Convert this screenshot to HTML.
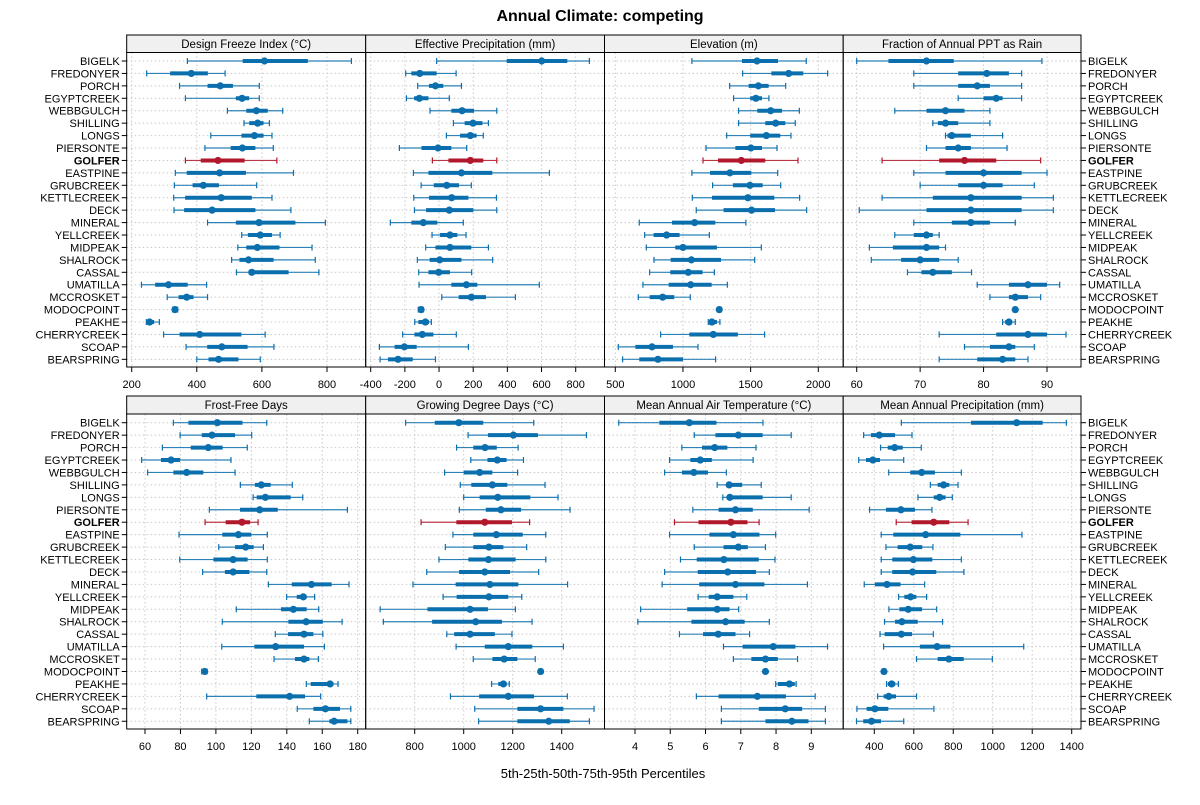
<!DOCTYPE html>
<html><head><meta charset="utf-8"><style>
body{margin:0;background:#fff;}
svg{font-family:"Liberation Sans",sans-serif;}
</style></head><body>
<svg id="chart" width="1200" height="800" xmlns="http://www.w3.org/2000/svg">
<text x="600" y="21" text-anchor="middle" font-size="16" font-weight="bold">Annual Climate: competing</text>
<text x="603" y="778" text-anchor="middle" font-size="13">5th-25th-50th-75th-95th Percentiles</text>
</svg>
<script>
const sites = ["BIGELK","FREDONYER","PORCH","EGYPTCREEK","WEBBGULCH","SHILLING","LONGS","PIERSONTE","GOLFER","EASTPINE","GRUBCREEK","KETTLECREEK","DECK","MINERAL","YELLCREEK","MIDPEAK","SHALROCK","CASSAL","UMATILLA","MCCROSKET","MODOCPOINT","PEAKHE","CHERRYCREEK","SCOAP","BEARSPRING"];
const highlightSite = "GOLFER";
const panelTitles = ["Design Freeze Index (°C)","Effective Precipitation (mm)","Elevation (m)","Fraction of Annual PPT as Rain","Frost-Free Days","Growing Degree Days (°C)","Mean Annual Air Temperature (°C)","Mean Annual Precipitation (mm)"];
const ticksFreeze = [200,400,600,800];
const ticksEffPpt = [-400,-200,0,200,400,600,800];
const ticksElev = [500,1000,1500,2000];
const ticksRain = [60,70,80,90];
const ticksFFD = [60,80,100,120,140,160,180];
const ticksGDD = [800,1000,1200,1400];
const ticksMAAT = [4,5,6,7,8,9];
const ticksMAP = [400,600,800,1000,1200,1400];
// each row: p5, p25, p50, p75, p95
const freezeIndex = [[371,541,608,741,875],[246,318,383,434,487],[347,433,472,511,592],[365,520,539,561,592],[494,552,583,618,664],[545,561,587,605,623],[443,537,577,605,631],[425,504,540,580,635],[365,412,465,547,646],[334,369,470,551,697],[331,387,420,468,584],[329,364,475,569,631],[330,361,447,580,689],[433,520,591,703,795],[538,557,595,631,656],[526,552,586,654,754],[507,531,559,636,764],[522,559,569,682,775],[230,272,313,372,430],[309,344,369,390,433],[326,330,333,336,341],[245,249,255,269,285],[298,347,409,537,610],[367,432,477,556,637],[400,436,467,528,595]];
const effPpt = [[-14,396,601,751,880],[-195,-162,-113,-14,100],[-125,-59,-21,25,131],[-191,-146,-115,-62,60],[-53,72,135,205,338],[84,150,199,254,289],[43,123,183,220,259],[-232,-103,-6,72,162],[-39,55,183,259,338],[-150,-62,131,312,646],[-105,-31,45,117,189],[-148,-59,74,172,336],[-144,-76,60,201,338],[-285,-162,-92,-10,142],[-41,6,64,107,158],[-78,-21,64,189,289],[-127,-55,4,131,314],[-119,-62,-2,64,191],[-117,72,160,224,587],[16,115,189,275,447],[-121,-113,-105,-98,-92],[-142,-121,-80,-59,-45],[-213,-144,-98,-33,101],[-349,-260,-203,-131,172],[-345,-299,-240,-154,-21]];
const elevation = [[1066,1436,1547,1702,1911],[1441,1653,1781,1889,2069],[1345,1485,1557,1633,1759],[1374,1497,1539,1584,1635],[1411,1549,1648,1732,1860],[1411,1608,1685,1756,1830],[1323,1497,1616,1719,1798],[1170,1387,1502,1584,1695],[1148,1259,1431,1608,1850],[1066,1200,1347,1505,1700],[1219,1369,1495,1589,1722],[1069,1214,1480,1675,1862],[1098,1300,1507,1680,1914],[677,919,1086,1239,1465],[717,783,879,975,1195],[729,943,1000,1251,1579],[786,909,1062,1281,1530],[754,906,1039,1145,1232],[704,894,1057,1212,1328],[670,754,850,936,1054],[1256,1262,1268,1276,1283],[1187,1195,1214,1251,1273],[835,1047,1224,1406,1603],[522,648,771,926,1111],[554,677,815,1000,1241]];
const rainFraction = [[60,65,71,75.3,89.2],[69,76,80.5,84,86],[69,76,79,81,86],[76,80,82,83,86],[66,71,74,77,81],[72,72.8,74,76,81],[74,74.3,75,78,83],[71,74,76,78,83.7],[64,73,77,82,89],[69,74,80,86,90],[70,76,80,83,88],[64,72,78,86,91],[60.4,71,78,86,91],[69,75,78,81,85],[66,69,71,72,73],[62,65.7,71,73,74],[62.3,67,70,73,76],[68,70.2,72,75,78.1],[79,84,87,90,92],[81,84,85,87,89],[84.7,84.9,85,85.1,85.2],[83,83.4,84,84.5,85],[73,82,87,90,93],[77,81,84,85,88],[73,79,83,85,87]];
const frostFree = [[76,84.5,100.8,115,128.7],[79.8,92,97.8,110.8,120.2],[69.8,85.8,95.7,103.8,117.7],[58.1,69,74.7,79.8,108.5],[61.5,76,83.5,92.9,110.8],[113.8,122,125.6,130.9,143.1],[121,123,127.9,142.2,149],[96.3,113.6,124.7,134.9,174.2],[93.9,105.5,114.7,119.3,123.8],[79.2,103.6,112.7,120,129],[101.6,110.8,116.8,121.3,126.8],[79.6,98.6,109.7,117.9,129],[92.5,105.1,109.7,118.9,128.7],[129.6,142.8,153.9,165.3,175.1],[139.9,145.6,149.3,151.2,155.7],[111.5,136.7,143.7,151.2,158],[103.6,140.9,150.9,160.3,171.2],[133.5,140.7,149.7,155,160.3],[103.3,121.7,133.7,149.7,161.2],[132.8,144.6,149.7,152.7,157.8],[92,92.7,93.7,94.4,95],[151,153.5,164.4,166.3,168.9],[94.8,122.8,141.6,150.3,159.1],[145.9,155,161.8,170,176.1],[152.7,164,166.7,174.2,176.1]];
const gdd = [[763,882,980,1080,1286],[1018,1099,1203,1303,1501],[971,1039,1087,1135,1222],[1029,1097,1137,1175,1244],[922,1000,1065,1117,1220],[986,1031,1117,1178,1332],[1000,1065,1139,1272,1385],[982,1090,1152,1234,1434],[826,970,1086,1197,1269],[956,1039,1133,1241,1335],[925,1039,1103,1162,1257],[899,1019,1101,1212,1335],[849,981,1086,1189,1306],[793,967,1107,1223,1424],[916,971,1103,1182,1237],[659,852,1026,1099,1211],[672,871,1049,1156,1279],[931,961,1026,1127,1197],[969,1086,1182,1280,1407],[1039,1117,1165,1219,1292],[1306,1310,1314,1318,1322],[1114,1141,1162,1175,1186],[946,1063,1182,1287,1423],[1045,1219,1314,1407,1532],[1061,1219,1347,1433,1513]];
const maat = [[3.54,4.69,5.54,6.31,7.63],[5.68,6.28,6.93,7.62,8.43],[5.33,5.9,6.26,6.62,7.43],[4.98,5.57,5.85,6.18,7.35],[4.84,5.33,5.67,6.07,6.59],[6.33,6.61,6.67,7.04,7.58],[6.49,6.64,6.69,7.62,8.43],[5.64,6.37,6.85,7.34,8.94],[5.12,5.8,6.72,7.19,7.52],[4.98,6.11,6.79,7.53,7.99],[5.68,6.51,6.93,7.2,7.7],[5.29,5.75,6.52,7.51,7.97],[4.84,5.78,6.63,7.43,7.81],[4.77,5.82,6.85,7.67,8.89],[5.79,6.09,6.33,6.79,7.17],[4.16,5.48,6.33,6.68,6.94],[4.08,5.6,6.57,7.11,7.81],[5.26,5.93,6.36,6.85,7.25],[6.51,7.05,7.92,8.55,9.46],[6.79,7.3,7.7,8.05,8.61],[7.66,7.68,7.7,7.72,7.73],[7.99,8.05,8.38,8.53,8.57],[5.74,6.37,7.47,8.28,9.11],[6.45,7.51,8.26,8.74,9.4],[6.45,7.7,8.45,8.92,9.4]];
const map = [[537,890,1121,1253,1373],[346,383,425,505,591],[432,468,503,544,638],[321,358,393,429,549],[473,582,640,707,841],[684,721,751,780,824],[621,701,731,761,795],[376,459,535,606,692],[511,589,701,780,875],[435,496,660,836,1148],[459,518,582,643,697],[435,491,598,694,841],[435,491,594,714,854],[349,403,464,533,655],[523,552,584,613,665],[474,527,572,642,716],[452,505,540,620,746],[429,452,537,591,699],[447,631,718,785,1157],[614,721,778,853,998],[439,444,449,454,459],[462,469,488,506,522],[417,447,473,510,614],[312,361,403,471,702],[310,344,386,434,549]];

const NS="http://www.w3.org/2000/svg";
const svg=document.getElementById('chart');
function mk(tag,attrs,parent){const e=document.createElementNS(NS,tag);for(const k in attrs)e.setAttribute(k,attrs[k]);(parent||svg).appendChild(e);return e;}
const lefts=[126.7,365.7,604.5,843.2], rightEdge=1081;
const panels=[
 {data:freezeIndex,ticks:ticksFreeze,cal:[200,131.7,800,327.0]},
 {data:effPpt,ticks:ticksEffPpt,cal:[-400,370.7,800,575.7]},
 {data:elevation,ticks:ticksElev,cal:[500,615.3,2000,818.3]},
 {data:rainFraction,ticks:ticksRain,cal:[60,856.7,90,1047.0]},
 {data:frostFree,ticks:ticksFFD,cal:[60,145.0,180,357.7]},
 {data:gdd,ticks:ticksGDD,cal:[800,414.7,1400,561.7]},
 {data:maat,ticks:ticksMAAT,cal:[4,635.0,9,811.3]},
 {data:map,ticks:ticksMAP,cal:[400,874.3,1400,1071.7]}];
const rowsLayout=[{stripTop:35,plotTop:52.5,plotBot:367,y0:61,dy:12.43,labY:388},{stripTop:396,plotTop:414,plotBot:729,y0:422.7,dy:12.44,labY:750}];
const BLUE="#0b6fae", RED="#b2182b";
panels.forEach((p,pi)=>{
  const r=rowsLayout[Math.floor(pi/4)], c=pi%4;
  const L=lefts[c], R=c<3?lefts[c+1]:rightEdge;
  const [va,pa,vb,pb]=p.cal;
  const xs=v=>pa+(v-va)*(pb-pa)/(vb-va);
  const ys=i=>r.y0+i*r.dy;
  const g=mk('g',{});
  
  
  const clipId='clip'+pi;
  const cp=mk('clipPath',{id:clipId},g);mk('rect',{x:L,y:r.plotTop,width:R-L,height:r.plotBot-r.plotTop},cp);
  // strip
  const st=mk('rect',{x:L,y:r.stripTop,width:R-L,height:r.plotTop-r.stripTop,fill:'#f0f0f0',stroke:'#000','stroke-width':1},g);
  
  
  const tt=mk('text',{x:(L+R)/2,y:r.stripTop+13,'text-anchor':'middle','font-size':11.5},g);
  tt.textContent=panelTitles[pi];
  
  
  // grid
  sites.forEach((s,i)=>{mk('line',{x1:L,x2:R,y1:ys(i),y2:ys(i),stroke:'#c8c8c8','stroke-dasharray':'1.5,2.5'},g);});
  p.ticks.forEach(t=>{const x=xs(t);
    mk('line',{x1:x,x2:x,y1:r.plotTop,y2:r.plotBot,stroke:'#c8c8c8','stroke-dasharray':'1.5,2.5'},g);
    mk('line',{x1:x,x2:x,y1:r.plotBot,y2:r.plotBot+5,stroke:'#000'},g);
    const tl=mk('text',{x:x,y:r.labY,'text-anchor':'middle','font-size':11},g);
    tl.textContent=String(t);
    
    
  });
  // marks
  const mg=mk('g',{'clip-path':'url(#'+clipId+')'},g);
  p.data.forEach((d,i)=>{
    const y=ys(i), col=sites[i]===highlightSite?RED:BLUE;
    const wl=mk('line',{x1:xs(d[0]),x2:xs(d[4]),y1:y,y2:y,stroke:col,'stroke-width':1.2,'stroke-opacity':0.85},mg);
    
    
    mk('line',{x1:xs(d[0]),x2:xs(d[0]),y1:y-3,y2:y+3,stroke:col,'stroke-width':1.2},mg);
    mk('line',{x1:xs(d[4]),x2:xs(d[4]),y1:y-3,y2:y+3,stroke:col,'stroke-width':1.2},mg);
    const bx=mk('line',{x1:xs(d[1]),x2:xs(d[3]),y1:y,y2:y,stroke:col,'stroke-width':4},mg);
    
    
    const dt=mk('circle',{cx:xs(d[2]),cy:y,r:3.6,fill:col},mg);
    
    
  });
  mk('rect',{x:L,y:r.plotTop,width:R-L,height:r.plotBot-r.plotTop,fill:'none',stroke:'#000','stroke-width':1},g);
  // site labels
  if(c===0||c===3){
    sites.forEach((s,i)=>{const y=ys(i);
      const x1=c===0?L:R, x2=c===0?L-5:R+5;
      mk('line',{x1:x1,x2:x2,y1:y,y2:y,stroke:'#000'},g);
      const lb=mk('text',{x:c===0?L-7:R+7,y:y+4,'text-anchor':c===0?'end':'start','font-size':11,'font-weight':s===highlightSite?'bold':'normal'},g);
      lb.textContent=s;
      
      
    });
  }
});
</script>
</body></html>
